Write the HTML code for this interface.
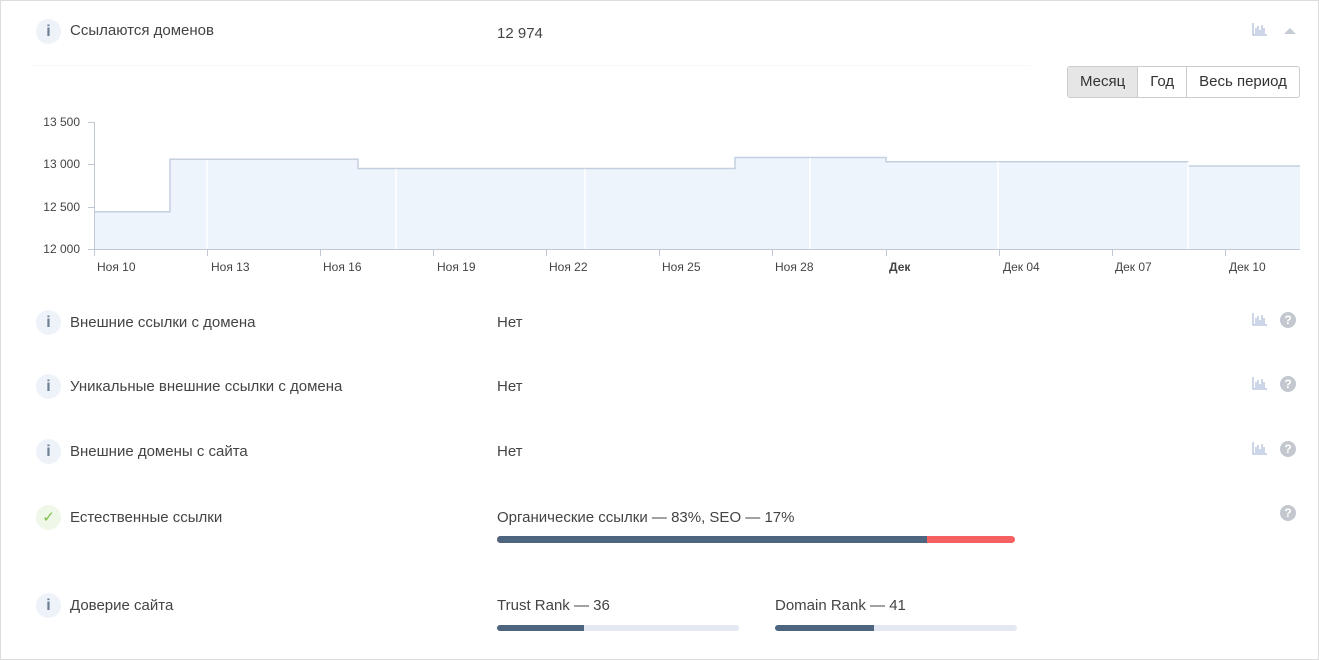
<!DOCTYPE html>
<html><head><meta charset="utf-8"><style>
body{margin:0;width:1319px;height:660px;background:#fff;font-family:"Liberation Sans",sans-serif;position:relative;overflow:hidden;color:#444}
.frame{position:absolute;left:0;top:0;width:1317px;height:658px;border:1px solid #ddd}
.t{position:absolute;font-size:15px;color:#444;white-space:nowrap}
.ic{position:absolute;width:25px;height:25px;border-radius:50%;background:#eef3f9;color:#6d7f94;font-size:16px;font-weight:bold;text-align:center;line-height:25px;font-family:"Liberation Sans",sans-serif}
.q{position:absolute;width:16px;height:16px;border-radius:50%;background:#c3c8cf;color:#fff;font-size:12px;font-weight:bold;text-align:center;line-height:16px}
.btns{position:absolute;left:1067px;top:66px;height:30px;display:flex;border:1px solid #ccc;border-radius:3px;overflow:hidden;font-size:15px}
.btns div{padding:0 12px;line-height:30px;border-right:1px solid #ccc;color:#333}
.btns div:last-child{border-right:none}
</style></head><body>
<div class="frame"></div>
<div class="ic" style="left:36px;top:19px">i</div>
<div class="t" style="left:70px;top:22px">Ссылаются доменов</div>
<div class="t" style="left:497px;top:25px">12 974</div>
<svg style="position:absolute;left:1252px;top:22px" width="16" height="14"><path d="M1 1V13H15" stroke="#9aaed0" fill="none"/><path d="M4 12V6M6 12V4M8 12V8M10 12V3M12 12V6" stroke="#9aaed0"/></svg>
<svg style="position:absolute;left:1284px;top:27px" width="12" height="8"><path d="M0 7L6 1L12 7Z" fill="#c5ccd6"/></svg>
<div style="position:absolute;left:30px;top:65px;width:1000px;height:1px;background:#f7f8fa"></div>
<div class="btns"><div style="background:#e6e6e6">Месяц</div><div>Год</div><div>Весь период</div></div>
<svg style="position:absolute;left:0;top:100px" width="1319" height="190">
<g font-size="12" fill="#444" text-anchor="end">
<text x="80" y="26">13 500</text><text x="80" y="68">13 000</text><text x="80" y="111">12 500</text><text x="80" y="153">12 000</text></g>
<path d="M94 149V111.7H170V59.2H358V68.5H735V57.5H886V61.8H1188V66H1300V149Z" fill="#edf4fc"/>
<path d="M94 111.7H170V59.2H358V68.5H735V57.5H886V61.8H1188V66H1300" fill="none" stroke="#c4cfdf" stroke-width="1.5"/>
<g stroke="#fff" stroke-width="1.5"><line x1="207" y1="60" x2="207" y2="149"/><line x1="396" y1="69" x2="396" y2="149"/><line x1="585" y1="69" x2="585" y2="149"/><line x1="810" y1="58" x2="810" y2="149"/><line x1="998" y1="62" x2="998" y2="149"/><line x1="1188" y1="62" x2="1188" y2="149"/></g>
<line x1="94.5" y1="22" x2="94.5" y2="149" stroke="#c0c8d4"/>
<line x1="94" y1="149.5" x2="1300" y2="149.5" stroke="#c0c8d4"/>
<g stroke="#c0c8d4"><line x1="88" y1="22.5" x2="94" y2="22.5"/><line x1="88" y1="64.5" x2="94" y2="64.5"/><line x1="88" y1="107.5" x2="94" y2="107.5"/><line x1="88" y1="149.5" x2="94" y2="149.5"/>
<path d="M94.5 149V156M207.5 149V156M320.5 149V156M433.5 149V156M546.5 149V156M659.5 149V156M772.5 149V156M886.5 149V156M999.5 149V156M1112.5 149V156M1225.5 149V156"/></g>
<g font-size="12" fill="#444">
<text x="97" y="171">Ноя 10</text><text x="211" y="171">Ноя 13</text><text x="323" y="171">Ноя 16</text><text x="437" y="171">Ноя 19</text><text x="549" y="171">Ноя 22</text><text x="662" y="171">Ноя 25</text><text x="775" y="171">Ноя 28</text><text x="889" y="171" font-weight="bold">Дек</text><text x="1003" y="171">Дек 04</text><text x="1115" y="171">Дек 07</text><text x="1229" y="171">Дек 10</text></g>
</svg>

<div class="ic" style="left:36px;top:310px">i</div><div class="t" style="left:70px;top:314px">Внешние ссылки с домена</div><div class="t" style="left:497px;top:314px">Нет</div>
<div class="ic" style="left:36px;top:374px">i</div><div class="t" style="left:70px;top:378px">Уникальные внешние ссылки с домена</div><div class="t" style="left:497px;top:378px">Нет</div>
<div class="ic" style="left:36px;top:439px">i</div><div class="t" style="left:70px;top:443px">Внешние домены с сайта</div><div class="t" style="left:497px;top:443px">Нет</div>
<div class="ic" style="left:36px;top:505px;background:#eef7e8;color:#7cc04b;font-family:'DejaVu Sans',sans-serif;font-size:15px">✓</div><div class="t" style="left:70px;top:509px">Естественные ссылки</div>
<div class="t" style="left:497px;top:509px">Органические ссылки — 83%, SEO — 17%</div>
<div style="position:absolute;left:497px;top:536px;width:518px;height:7px;border-radius:4px;background:#f76060;overflow:hidden"><div style="width:430px;height:7px;background:#4e6580"></div></div>
<div class="ic" style="left:36px;top:593px">i</div><div class="t" style="left:70px;top:597px">Доверие сайта</div>
<div class="t" style="left:497px;top:597px">Trust Rank — 36</div>
<div class="t" style="left:775px;top:597px">Domain Rank — 41</div>
<div style="position:absolute;left:497px;top:625px;width:242px;height:6px;border-radius:3px;background:#e3e8f2;overflow:hidden"><div style="width:87px;height:6px;background:#4e6580"></div></div>
<div style="position:absolute;left:775px;top:625px;width:242px;height:6px;border-radius:3px;background:#e3e8f2;overflow:hidden"><div style="width:99px;height:6px;background:#4e6580"></div></div>

<svg style="position:absolute;left:1252px;top:312px" width="16" height="14"><path d="M1 1V13H15" stroke="#9aaed0" fill="none"/><path d="M4 12V6M6 12V4M8 12V8M10 12V3M12 12V6" stroke="#9aaed0"/></svg>
<svg style="position:absolute;left:1252px;top:376px" width="16" height="14"><path d="M1 1V13H15" stroke="#9aaed0" fill="none"/><path d="M4 12V6M6 12V4M8 12V8M10 12V3M12 12V6" stroke="#9aaed0"/></svg>
<svg style="position:absolute;left:1252px;top:441px" width="16" height="14"><path d="M1 1V13H15" stroke="#9aaed0" fill="none"/><path d="M4 12V6M6 12V4M8 12V8M10 12V3M12 12V6" stroke="#9aaed0"/></svg>
<div class="q" style="left:1280px;top:312px">?</div>
<div class="q" style="left:1280px;top:376px">?</div>
<div class="q" style="left:1280px;top:441px">?</div>
<div class="q" style="left:1280px;top:505px">?</div>
</body></html>
